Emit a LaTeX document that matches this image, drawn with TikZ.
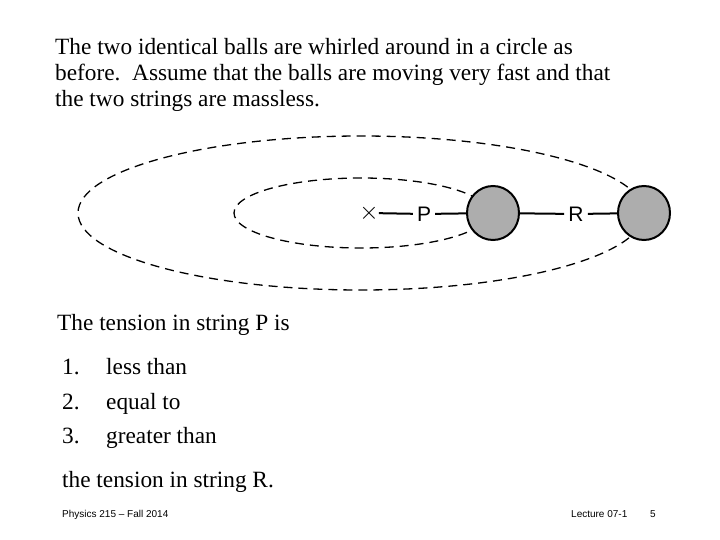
\documentclass[tikz,border=0pt]{standalone}
\usepackage{fontspec}
\usetikzlibrary{shapes.geometric}
\setmainfont{Liberation Serif}
\newfontfamily\arial{Liberation Sans}
\begin{document}
\begin{tikzpicture}[x=1pt,y=-1pt,
  orbit/.style={dashed,dash pattern=on 9pt off 6pt,line width=1.3pt},
  ball/.style={ellipse,draw,line width=2pt,fill=black!32,minimum width=52pt,minimum height=54pt,inner sep=0pt},
  str/.style={line width=2pt},
  txt/.style={anchor=base west,inner sep=0pt,font=\fontsize{23.3}{28}\selectfont},
  lab/.style={inner sep=4pt,font=\arial\fontsize{21}{24}\selectfont},
  foot/.style={anchor=base west,inner sep=0pt,font=\arial\fontsize{10}{12}\selectfont}]
\useasboundingbox (0,0) rectangle (720,540);
\draw[orbit] (361,213) ellipse [x radius=283,y radius=77];
\draw[orbit] (361,213) ellipse [x radius=127,y radius=35];
\node[ball] (b1) at (493,213) {};
\node[ball] (b2) at (644,213) {};
\node[inner sep=0pt,font=\fontsize{28}{28}\selectfont] (x) at (369,213) {$\times$};
\node[lab] (p) at (424,214) {P};
\node[lab] (r) at (576,214) {R};
\draw[str] (x) -- (p);
\draw[str] (p) -- (b1);
\draw[str] (b1) -- (r);
\draw[str] (r) -- (b2);
\node[txt] (t1) at (55,55) {The two identical balls are whirled around in a circle as};
\node[txt] (t2) at (55,81) {before.\ \ Assume that the balls are moving very fast and that};
\node[txt] (t3) at (55,107) {the two strings are massless.};
\node[txt] (q) at (57,330) {The tension in string P is};
\node[txt] (n1) at (62,374) {1.};
\node[txt] (a1) at (106,374) {less than};
\node[txt] (n2) at (62,409) {2.};
\node[txt] (a2) at (106,409) {equal to};
\node[txt] (n3) at (62,443) {3.};
\node[txt] (a3) at (106,443) {greater than};
\node[txt] (e) at (62,487) {the tension in string R.};
\node[foot] (f1) at (62,517) {Physics 215 – Fall 2014};
\node[foot] (f2) at (571,517) {Lecture 07-1};
\node[foot] (f3) at (650,517) {5};
\end{tikzpicture}
\end{document}
